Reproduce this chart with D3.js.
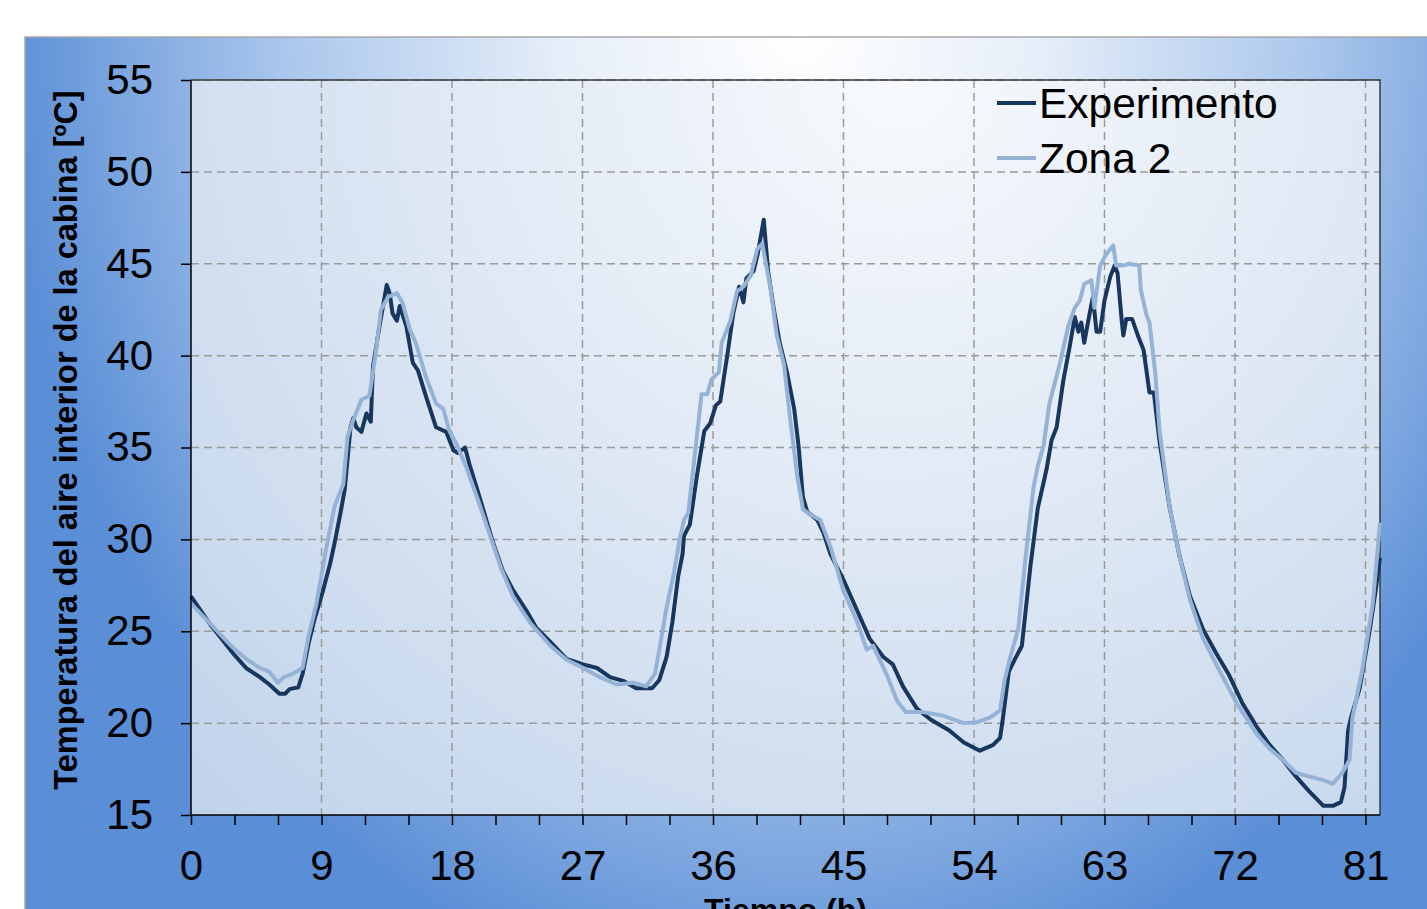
<!DOCTYPE html>
<html>
<head>
<meta charset="utf-8">
<script src="https://cdn.jsdelivr.net/npm/d3@7"></script>
<style>
  html, body { margin: 0; padding: 0; background: #ffffff; }
  svg { display: block; font-family: "Liberation Sans", Arial, sans-serif; }
</style>
</head>
<body>
<svg id="chart" width="1427" height="909"></svg>
<script>
// ---- Data ----
const seriesNames = ["Experimento", "Zona 2"];
const xTickLabels = [0, 9, 18, 27, 36, 45, 54, 63, 72, 81];
const yTickLabels = [15, 20, 25, 30, 35, 40, 45, 50, 55];

const hoursExp = [0,0.6,1.3,2.0,2.9,3.8,4.75,5.4,6.1,6.5,6.8,7.4,7.7,8.1,8.5,9.1,9.6,9.9,10.3,10.6,11.0,11.2,11.4,11.75,12.1,12.4,12.55,13.0,13.5,13.7,13.9,14.2,14.4,14.85,15.3,15.65,16.2,16.9,17.6,18.1,18.4,18.9,19.2,19.9,20.8,21.5,22.2,23.15,23.8,24.8,25.9,27.05,28.0,28.9,29.8,30.7,31.8,32.3,32.8,33.2,33.6,33.9,34.0,34.4,34.9,35.4,35.8,36.2,36.5,37.0,37.4,37.8,38.1,38.3,38.8,39.1,39.5,39.8,40.2,40.6,41.1,41.6,41.9,42.2,42.5,43.2,43.6,44.1,45.0,45.9,46.8,47.75,48.4,49.1,50.05,51.0,52.3,53.3,54.4,55.3,55.8,56.0,56.4,56.9,57.3,57.9,58.4,59.0,59.35,59.7,60.15,60.6,60.95,61.2,61.4,61.6,62.0,62.2,62.45,62.7,63.0,63.4,63.7,63.9,64.2,64.3,64.5,64.9,65.3,65.7,66.1,66.4,66.8,67.5,68.2,68.9,69.8,70.7,71.6,72.5,73.5,74.4,75.3,76.2,77.1,78.1,78.75,79.3,79.55,79.8,80.0,80.6,81.3,81.7,82.0];
const tempExp = [26.9,26.2,25.4,24.7,23.8,23.0,22.5,22.1,21.6,21.6,21.85,21.95,22.7,24.3,25.6,27.2,28.7,29.8,31.4,32.7,36.1,36.6,36.1,35.85,36.85,36.4,39.4,41.6,43.85,43.4,42.3,41.9,42.7,41.6,39.6,39.2,37.8,36.1,35.85,34.85,34.7,35.0,34.1,32.3,29.9,28.3,27.25,26.1,25.2,24.4,23.5,23.2,23.0,22.5,22.3,21.9,21.9,22.35,23.6,25.5,28.0,29.2,30.2,30.8,33.5,35.9,36.3,37.3,37.5,40.1,42.3,43.75,42.9,44.2,44.6,45.6,47.4,44.6,42.5,40.7,39.1,37.1,35.1,32.3,31.5,31.05,30.4,29.2,27.8,26.2,24.6,23.6,23.2,22.0,20.8,20.2,19.6,18.95,18.5,18.8,19.2,20.3,22.8,23.6,24.2,28.6,31.7,33.8,35.4,36.1,38.6,40.5,42.1,41.3,41.8,40.7,42.4,43.2,41.3,41.3,43.0,44.3,44.9,44.5,41.8,41.1,42.0,42.0,41.1,40.3,38.0,38.0,35.3,31.7,29.0,26.9,25.1,23.8,22.6,21.1,19.8,18.8,18.0,17.1,16.3,15.5,15.5,15.7,16.5,19.6,20.3,21.9,25.1,27.2,29.0];

const hoursZ2 = [0,1.1,2.0,2.9,3.8,4.75,5.4,6.0,6.4,7.05,7.7,8.1,8.65,9.3,9.9,10.5,10.8,11.2,11.75,12.3,12.7,13.1,13.6,14.2,14.6,15.1,15.5,16.2,16.9,17.4,17.8,18.3,19.0,19.9,20.8,21.4,22.2,23.4,24.8,25.9,27.05,28.2,29.35,30.5,31.4,32.0,32.3,32.8,33.3,33.7,34.0,34.3,34.7,35.1,35.2,35.6,35.9,36.4,36.6,37.2,37.65,38.1,38.6,39.05,39.4,39.6,39.95,40.4,40.9,41.3,41.8,42.2,42.7,43.4,44.1,45.0,45.9,46.6,47.05,48.0,48.7,49.3,50.5,51.9,53.3,54.2,55.1,55.8,56.1,56.5,57.05,57.5,58.1,58.4,58.8,59.2,59.9,60.5,60.95,61.3,61.6,62.1,62.3,62.7,63.1,63.6,63.8,64.3,64.7,65.4,65.5,65.9,66.1,66.5,66.8,67.5,68.2,68.9,69.8,70.7,72.1,73.5,74.4,75.3,76.2,77.1,78.1,78.75,79.4,79.9,80.1,80.8,81.5,82.0];
const tempZ2 = [26.5,25.6,24.85,24.1,23.5,23.0,22.8,22.2,22.5,22.7,23.0,24.7,26.5,29.4,31.8,33.0,35.6,36.5,37.6,37.8,39.9,42.5,43.2,43.4,42.85,41.4,40.7,38.85,37.4,37.1,35.95,35.2,33.9,31.9,29.8,28.4,26.9,25.45,24.2,23.45,23.0,22.5,22.1,22.2,22.0,22.7,24.0,26.3,28.15,30.0,31.05,31.45,34.3,37.1,37.9,37.9,38.7,39.1,40.7,41.9,43.5,43.75,44.35,45.8,46.1,45.2,43.75,41.1,39.5,36.7,33.5,31.65,31.35,31.05,29.6,27.2,25.6,24.0,24.2,22.6,21.2,20.6,20.6,20.4,20.0,20.05,20.3,20.7,22.3,23.6,25.1,28.6,32.8,34.0,35.1,37.4,39.5,41.6,42.6,43.0,43.9,44.1,42.6,44.9,45.5,46.0,44.9,44.9,45.0,44.9,43.6,42.2,41.8,39.05,35.9,31.7,29.0,26.7,24.6,23.2,21.1,19.4,18.6,18.0,17.3,17.1,16.9,16.7,17.3,18.0,20.3,23.0,26.5,30.9];

const xMinorTicks = d3.range(0, 82, 3);
const xDomain = [0, 82];
const yDomain = [15, 55];

// ---- Layout ----
const W = 1427, H = 909;
const plot = { left: 191, right: 1380, top: 80, bottom: 815 };
const colors = { exp: "#17375e", z2: "#95b3d7" };

const svg = d3.select("#chart");
const defs = svg.append("defs");

// outer background radial gradient
const bg = defs.append("radialGradient")
  .attr("id", "bgGrad")
  .attr("gradientUnits", "userSpaceOnUse")
  .attr("cx", 800).attr("cy", 20).attr("r", 800)
  .attr("gradientTransform", "translate(800,20) scale(1,1.25) translate(-800,-20)");
bg.append("stop").attr("offset", 0).attr("stop-color", "#ffffff");
bg.append("stop").attr("offset", 0.3).attr("stop-color", "#e6eef9");
bg.append("stop").attr("offset", 0.65).attr("stop-color", "#a9c6ec");
bg.append("stop").attr("offset", 1).attr("stop-color", "#5a8ed6");

// plot area gradient
const pg = defs.append("radialGradient")
  .attr("id", "plotGrad")
  .attr("gradientUnits", "userSpaceOnUse")
  .attr("cx", 900).attr("cy", 70).attr("r", 1050);
pg.append("stop").attr("offset", 0).attr("stop-color", "#f8fafd");
pg.append("stop").attr("offset", 1).attr("stop-color", "#bfd2ea");

svg.append("rect")
  .attr("x", 25).attr("y", 37).attr("width", W).attr("height", H)
  .attr("fill", "url(#bgGrad)")
  .attr("stroke", "#a8a8a8").attr("stroke-width", 1.5);

const x = d3.scaleLinear().domain(xDomain).range([plot.left, plot.right]);
const y = d3.scaleLinear().domain(yDomain).range([plot.bottom, plot.top]);

svg.append("rect")
  .attr("x", plot.left).attr("y", plot.top)
  .attr("width", plot.right - plot.left).attr("height", plot.bottom - plot.top)
  .attr("fill", "url(#plotGrad)");

// gridlines
const grid = svg.append("g").attr("stroke", "#9a9a9a").attr("stroke-width", 1.5)
  .attr("stroke-dasharray", "8,5").attr("fill", "none");
grid.selectAll("line.v").data(xTickLabels.filter(d => d > 0)).join("line")
  .attr("x1", d => x(d)).attr("x2", d => x(d))
  .attr("y1", plot.top).attr("y2", plot.bottom);
grid.selectAll("line.h").data(yTickLabels.filter(d => d > 15)).join("line")
  .attr("x1", plot.left).attr("x2", plot.right)
  .attr("y1", d => y(d)).attr("y2", d => y(d));

// plot border (top/right)
svg.append("path")
  .attr("d", `M${plot.left},${plot.top}H${plot.right}V${plot.bottom}`)
  .attr("fill", "none").attr("stroke", "#3a3a3a").attr("stroke-width", 1.5);

// lines
const line = d3.line().x(d => x(d[0])).y(d => y(d[1])).curve(d3.curveLinear);
const expData = hoursExp.map((h, i) => [h, tempExp[i]]);
const z2Data = hoursZ2.map((h, i) => [h, tempZ2[i]]);

svg.append("path").datum(expData).attr("d", line)
  .attr("fill", "none").attr("stroke", colors.exp).attr("stroke-width", 4)
  .attr("stroke-linejoin", "round");
svg.append("path").datum(z2Data).attr("d", line)
  .attr("fill", "none").attr("stroke", colors.z2).attr("stroke-width", 4)
  .attr("stroke-linejoin", "round");

// axes
const yAxis = d3.axisLeft(y).tickValues(yTickLabels).tickSize(10).tickPadding(28).tickSizeOuter(0);
const gy = svg.append("g").attr("transform", `translate(${plot.left},0)`).call(yAxis);
const xAxis = d3.axisBottom(x).tickValues(xMinorTicks).tickSize(10).tickPadding(25).tickSizeOuter(0)
  .tickFormat(d => (d % 9 === 0 ? d : ""));
const gx = svg.append("g").attr("transform", `translate(0,${plot.bottom})`).call(xAxis);

[gx, gy].forEach(g => {
  g.select(".domain").attr("stroke", "#000").attr("stroke-width", 1.5);
  g.selectAll(".tick line").attr("stroke", "#000").attr("stroke-width", 1.5);
  g.selectAll(".tick text").attr("fill", "#000")
    .style("font-family", "'Liberation Sans', Arial, sans-serif").style("font-size", "42px");
});
gx.select(".domain").attr("d", `M${plot.left},0H${plot.right}`);
gy.select(".domain").attr("d", `M0,${plot.bottom}V${plot.top}`);

// axis titles
svg.append("text")
  .attr("transform", `translate(77,440) rotate(-90)`)
  .attr("text-anchor", "middle")
  .style("font-size", "32.5px").style("font-weight", "bold").attr("fill", "#000")
  .text("Temperatura del aire interior de la cabina [ºC]");

svg.append("text")
  .attr("x", (plot.left + plot.right) / 2).attr("y", 921)
  .attr("text-anchor", "middle")
  .style("font-size", "32px").style("font-weight", "bold").attr("fill", "#000")
  .text("Tiempo (h)");

// legend
const legend = svg.append("g");
const legendItems = [
  { name: seriesNames[0], color: colors.exp, y: 103 },
  { name: seriesNames[1], color: colors.z2, y: 158 }
];
legendItems.forEach(it => {
  legend.append("line")
    .attr("x1", 997).attr("x2", 1036).attr("y1", it.y).attr("y2", it.y)
    .attr("stroke", it.color).attr("stroke-width", 4);
  legend.append("text")
    .attr("x", 1039).attr("y", it.y + 15)
    .style("font-size", "42.5px").attr("fill", "#000")
    .text(it.name);
});
</script>
</body>
</html>
